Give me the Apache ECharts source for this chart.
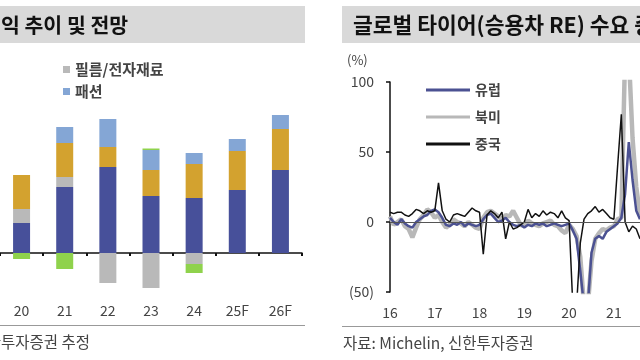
<!DOCTYPE html>
<html><head><meta charset="utf-8">
<script src="https://cdn.jsdelivr.net/npm/echarts@6/dist/echarts.min.js"></script>
<style>html,body{margin:0;padding:0;background:#fff}#c{width:640px;height:360px}</style>
</head><body><div id="c"></div>
<script>
// ---- Left chart: segment operating profit (stacked bars) ----
var barCats = ['20','21','22','23','24','25F','26F'];
var segIndustrial = [30, 66, 86, 57, 55, 63, 83];
var segFilm      = [14, 10, -30, -35, -11, 0, 0];
var segChem      = [34, 34, 20, 26, 34, 39, 41];
var segFashion   = [0, 16, 28, 20, 11, 12, 14];
var segOther     = [-6, -16, 0, 1.5, -9, 0, 0];

// ---- Right chart: global PC replacement tire demand YoY (%) ----
var yearLabels = ['16','17','18','19','20','21'];
var europe = [3,0,-2,2,-1,-3,-4,0,2,4,5,8,
  9,7,3,-2,-3,-1,-2,0,-3,-1,-2,-3,
  -2,2,5,6,3,0,1,3,0,-2,-3,-2,
  -4,-2,-3,-1,-2,-1,-3,-2,-1,-2,-3,-2,
  -1,-6,-12,-35,-60,-60,-22,-12,-10,-12,-7,-5,
  -3,-1,3,20,57,30,8,2];
var northAmerica = [4,-2,0,2,-3,-5,-11,-4,2,5,9,7,
  3,5,0,-4,-2,2,0,-1,-3,0,-2,-4,
  -5,3,7,8,6,4,2,5,4,8,3,-2,
  -3,1,-1,-2,-3,-1,0,1,-2,-3,-6,-8,
  -2,-5,-10,-25,-60,-60,-28,-12,-8,-5,-6,-4,
  -3,2,3,120,120,60,25,5];
var china = [7,6,7,7,5,4,6,9,8,6,8,7,
  8,28,8,2,0,5,6,5,4,7,10,8,
  7,-23,5,8,6,3,7,-12,0,-5,-4,-2,
  0,9,3,6,4,8,5,7,6,3,8,3,
  1,-60,-60,-15,2,6,8,11,7,9,6,3,
  2,40,77,0,-7,-3,-5,-12];

var months = [];
for (var y = 0; y < yearLabels.length; y++) {
  for (var m = 1; m <= 12; m++) months.push(yearLabels[y] + '-' + (m < 10 ? '0' + m : m));
}
months = months.slice(0, china.length);

var FONT = '"Noto Sans CJK KR", "Noto Sans", sans-serif';
var chart = echarts.init(document.getElementById('c'), null, {renderer: 'canvas'});

function barSeries(name, data, color) {
  return {name: name, type: 'bar', stack: 'seg', xAxisIndex: 0, yAxisIndex: 0,
    data: data, barWidth: 17, itemStyle: {color: color}};
}

chart.setOption({
  animation: false,
  textStyle: {fontFamily: FONT},
  grid: [
    {left: 0, width: 302, top: 103, height: 200},
    {left: 390, width: 250, top: 82, height: 210}
  ],
  legend: [
    {data: ['필름/전자재료', '패션'], orient: 'vertical', left: 58, top: 57,
      itemWidth: 7, itemHeight: 7, itemGap: 7, icon: 'rect',
      textStyle: {fontFamily: FONT, fontSize: 15, fontWeight: 'bold', color: '#444'}},
    {data: ['유럽', '북미', '중국'], orient: 'vertical', left: 421, top: 78,
      itemWidth: 44, itemHeight: 3, itemGap: 13, icon: 'rect',
      textStyle: {fontFamily: FONT, fontSize: 14, fontWeight: 'bold', color: '#444'}}
  ],
  xAxis: [
    {type: 'category', gridIndex: 0, data: barCats,
      axisLine: {onZero: true, lineStyle: {color: '#111', width: 1.5}},
      axisTick: {show: true, length: 3, interval: 0, lineStyle: {color: '#111', width: 2}},
      axisLabel: {show: false}},
    {type: 'category', gridIndex: 0, data: barCats, position: 'bottom',
      axisLine: {show: false, onZero: false}, axisTick: {show: false},
      axisLabel: {margin: 1, fontSize: 14, color: '#444', fontFamily: FONT}},
    {type: 'category', gridIndex: 1, data: months, boundaryGap: false,
      axisLine: {show: false}, axisTick: {show: false},
      axisLabel: {margin: 14, fontSize: 14, color: '#444', fontFamily: FONT,
        interval: function (i) { return i % 12 === 0; },
        formatter: function (v) { return v.split('-')[0]; }}}
  ],
  yAxis: [
    {type: 'value', gridIndex: 0, min: -50, max: 150, show: false},
    {type: 'value', gridIndex: 1, min: -50, max: 100, interval: 50,
      splitLine: {show: false},
      axisLine: {show: true, lineStyle: {color: '#111', width: 1.5}},
      axisTick: {show: true, length: 4, lineStyle: {color: '#111', width: 1.5}},
      axisLabel: {margin: 16, fontSize: 14, color: '#444', fontFamily: FONT,
        formatter: function (v) { return v < 0 ? '(' + (-v) + ')' : String(v); }}}
  ],
  series: [
    barSeries('산업자재', segIndustrial, '#47509a'),
    barSeries('필름/전자재료', segFilm, '#b9b9b9'),
    barSeries('화학', segChem, '#d3a22f'),
    barSeries('패션', segFashion, '#84a6d5'),
    barSeries('기타', segOther, '#8fd24c'),
    {name: '북미', type: 'line', xAxisIndex: 2, yAxisIndex: 1, data: northAmerica,
      symbol: 'none', color: '#b8b8b8', lineStyle: {width: 4.5, color: '#b8b8b8'},
      markLine: {silent: true, symbol: 'none', label: {show: false},
        lineStyle: {color: '#555', width: 1, type: 'solid'}, data: [{yAxis: 0}]}},
    {name: '유럽', type: 'line', xAxisIndex: 2, yAxisIndex: 1, data: europe,
      symbol: 'none', color: '#4b5192', lineStyle: {width: 2.5, color: '#4b5192'}},
    {name: '중국', type: 'line', xAxisIndex: 2, yAxisIndex: 1, data: china,
      symbol: 'none', color: '#111', lineStyle: {width: 1.5, color: '#111'}}
  ],
  graphic: [
    {type: 'rect', shape: {x: 0, y: 6, width: 305, height: 37}, style: {fill: '#d9d9d9'}, z: -1},
    {type: 'text', x: 1, y: 25, style: {text: '익 추이 및 전망', font: 'bold 20.5px ' + FONT, fill: '#111', verticalAlign: 'middle'}},
    {type: 'rect', shape: {x: 342, y: 6, width: 300, height: 37}, style: {fill: '#d9d9d9'}, z: -1},
    {type: 'text', x: 353, y: 25, style: {text: '글로벌 타이어(승용차 RE) 수요 증감률', font: 'bold 21.5px ' + FONT, fill: '#111', verticalAlign: 'middle'}},
    {type: 'text', x: 347, y: 60, style: {text: '(%)', font: '13px ' + FONT, fill: '#444', verticalAlign: 'middle'}},
    {type: 'line', shape: {x1: 0, y1: 325.5, x2: 305, y2: 325.5}, style: {stroke: '#999', lineWidth: 1}},
    {type: 'line', shape: {x1: 342, y1: 326.5, x2: 640, y2: 326.5}, style: {stroke: '#999', lineWidth: 1}},
    {type: 'text', x: 90, y: 342, style: {text: '신한투자증권 추정', font: '15.5px ' + FONT, fill: '#444', verticalAlign: 'middle', align: 'right'}},
    {type: 'text', x: 343, y: 343, style: {text: '자료: Michelin, 신한투자증권', font: '15.5px ' + FONT, fill: '#444', verticalAlign: 'middle'}}
  ]
});
</script></body></html>
